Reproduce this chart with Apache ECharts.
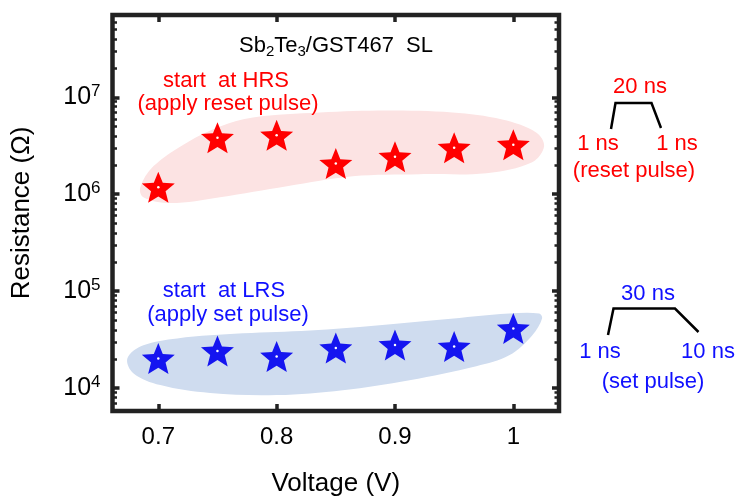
<!DOCTYPE html>
<html><head><meta charset="utf-8">
<script src="https://cdn.jsdelivr.net/npm/echarts@6/dist/echarts.min.js"></script>
<style>html,body{margin:0;padding:0;background:#fff}#c{width:736px;height:502px}</style>
</head><body><div id="c"></div>
<script>
// ---- data ----
const voltages = [0.7, 0.75, 0.8, 0.85, 0.9, 0.95, 1.0];
const resetResistance = [1.18e6, 3.83e6, 4.05e6, 2.07e6, 2.44e6, 3.02e6, 3.24e6]; // start at HRS
const setResistance = [2.02e4, 2.42e4, 2.12e4, 2.59e4, 2.79e4, 2.68e4, 4.13e4];   // start at LRS
const xTickValues = [0.7, 0.8, 0.9, 1.0];
const xTickLabels = ['0.7', '0.8', '0.9', '1'];
const yDecadeExponents = [4, 5, 6, 7];
const yMinorTickValues = [7e3, 8e3, 9e3, 2e4, 3e4, 4e4, 5e4, 6e4, 7e4, 8e4, 9e4,
  2e5, 3e5, 4e5, 5e5, 6e5, 7e5, 8e5, 9e5, 2e6, 3e6, 4e6, 5e6, 6e6, 7e6, 8e6, 9e6,
  2e7, 3e7, 4e7, 5e7, 6e7, 7e7];
// shaded regions outline: [voltage, log10(resistance)]
const resetRegion = [[0.6848,6.073],[0.6958,6.288],[0.7244,6.535],[0.7522,6.699],[0.78,6.792],
  [0.8365,6.843],[0.8929,6.863],[0.9485,6.843],[0.9906,6.771],[1.0193,6.638],[1.026,6.494],
  [1.0159,6.33],[0.9772,6.217],[0.9207,6.207],[0.8643,6.186],[0.8087,6.083],[0.7522,5.97],
  [0.7101,5.909],[0.6874,5.97]];
const setRegion = [[0.6739,4.308],[0.6874,4.441],[0.716,4.513],[0.7716,4.565],[0.8281,4.595],
  [0.8845,4.647],[0.9401,4.708],[0.9965,4.77],[1.0218,4.77],[1.0243,4.719],[1.0159,4.544],
  [0.9965,4.339],[0.9687,4.226],[0.9123,4.082],[0.8559,3.979],[0.8003,3.928],[0.7438,3.949],
  [0.7017,4.031],[0.6789,4.154]];

const FONT = 'Liberation Sans, Arial, Helvetica, sans-serif';
// five-point star symbol (inner radius ratio 0.44)
const STAR = (() => {
  let d = 'path://';
  for (let k = 0; k < 10; k++) {
    const r = k % 2 === 0 ? 50 : 22;
    const a = -Math.PI / 2 + k * Math.PI / 5;
    d += (k === 0 ? 'M' : 'L') + (50 + r * Math.cos(a)).toFixed(2) + ',' + (50 + r * Math.sin(a)).toFixed(2) + ' ';
  }
  return d + 'Z';
})();
const lg = v => Math.log10(v);
const X_MIN = 0.6613, X_MAX = 1.0386, Y_MIN = 3.764, Y_MAX = 7.849;

const chart = echarts.init(document.getElementById('c'), null, {renderer: 'canvas'});

function regionSeries(points, color) {
  return {
    type: 'custom', coordinateSystem: 'cartesian2d', silent: true, z: 1,
    data: [points[0]],
    renderItem: (params, api) => ({
      type: 'polygon',
      shape: {points: points.map(p => api.coord(p)), smooth: 0.35},
      style: {fill: color}
    })
  };
}
function starSeries(vals, color) {
  return {
    type: 'scatter', symbol: STAR, symbolSize: [33, 31], z: 3,
    itemStyle: {color: color, opacity: 1},
    data: voltages.map((v, i) => [v, lg(vals[i])])
  };
}
function dotSeries(vals) {
  return {
    type: 'scatter', symbol: 'circle', symbolSize: 2.5, z: 4, silent: true,
    itemStyle: {color: '#ffffff', opacity: 1},
    data: voltages.map((v, i) => [v, lg(vals[i])])
  };
}

const yLabelRich = {
  b: {fontSize: 25, fontFamily: FONT, color: '#000', lineHeight: 29},
  s: {fontSize: 17, fontFamily: FONT, color: '#000', lineHeight: 18, verticalAlign: 'top'}
};
const majorY = yDecadeExponents;
const minorY = yMinorTickValues.map(lg);

function yAxisDef(pos, values, len, w, labels) {
  return {
    type: 'value', position: pos, min: Y_MIN, max: Y_MAX, offset: 0,
    axisLine: {show: false}, splitLine: {show: false},
    axisTick: {show: true, inside: true, length: len, customValues: values,
      lineStyle: {color: '#222', width: w}},
    axisLabel: labels ? {show: true, customValues: values, margin: 12,
      formatter: v => '{b|10}{s|' + Math.round(v) + '}', rich: yLabelRich} : {show: false},
    name: labels ? 'Resistance (\u03A9)' : '',
    nameLocation: 'middle', nameGap: 78,
    nameTextStyle: {fontSize: 26, fontFamily: FONT, color: '#000'}
  };
}

const option = {
  backgroundColor: '#fff',
  animation: false,
  grid: {left: 112.5, right: 177, top: 15, bottom: 89, show: true,
    borderColor: '#222', borderWidth: 4.5, backgroundColor: 'transparent'},
  xAxis: [
    {type: 'value', position: 'bottom', min: X_MIN, max: X_MAX,
      axisLine: {show: false}, splitLine: {show: false},
      axisTick: {show: true, inside: true, length: 7, customValues: xTickValues,
        lineStyle: {color: '#222', width: 3.5}},
      axisLabel: {show: true, customValues: xTickValues, margin: 14,
        formatter: v => xTickLabels[xTickValues.indexOf(v)] ?? String(v),
        fontSize: 24, fontFamily: FONT, color: '#000'},
      name: 'Voltage (V)', nameLocation: 'middle', nameGap: 60,
      nameTextStyle: {fontSize: 26, fontFamily: FONT, color: '#000'}},
    {type: 'value', position: 'top', min: X_MIN, max: X_MAX,
      axisLine: {show: false}, splitLine: {show: false},
      axisTick: {show: true, inside: true, length: 7, customValues: xTickValues,
        lineStyle: {color: '#222', width: 3.5}},
      axisLabel: {show: false}}
  ],
  yAxis: [
    yAxisDef('left', majorY, 7, 3.5, true),
    yAxisDef('left', minorY, 4.5, 2.5, false),
    yAxisDef('right', majorY, 7, 3.5, false),
    yAxisDef('right', minorY, 4.5, 2.5, false)
  ],
  series: [
    regionSeries(resetRegion, '#fce3e3'),
    regionSeries(setRegion, '#cfdcef'),
    starSeries(resetResistance, '#ff0000'),
    starSeries(setResistance, '#1515f0'),
    dotSeries(resetResistance),
    dotSeries(setResistance)
  ],
  graphic: [
    {type: 'text', x: 336, y: 46, z: 10, style: {
      text: 'Sb{sub|2}Te{sub|3}/GST467  SL', font: '22px ' + FONT, fill: '#000',
      align: 'center', verticalAlign: 'middle', lineHeight: 26,
      rich: {sub: {fontSize: 15, fontFamily: FONT, fill: '#000', lineHeight: 14, verticalAlign: 'bottom'}}}},
    {type: 'text', x: 226, y: 81, z: 10, style: {text: 'start  at HRS', font: '22px ' + FONT, fill: '#ff0000', align: 'center', verticalAlign: 'middle'}},
    {type: 'text', x: 228, y: 104, z: 10, style: {text: '(apply reset pulse)', font: '22px ' + FONT, fill: '#ff0000', align: 'center', verticalAlign: 'middle'}},
    {type: 'text', x: 224, y: 291, z: 10, style: {text: 'start  at LRS', font: '22px ' + FONT, fill: '#1010ff', align: 'center', verticalAlign: 'middle'}},
    {type: 'text', x: 228, y: 315, z: 10, style: {text: '(apply set pulse)', font: '22px ' + FONT, fill: '#1010ff', align: 'center', verticalAlign: 'middle'}},
    // reset pulse sketch
    {type: 'polyline', z: 10, shape: {points: [[611, 129], [615.5, 103], [651.5, 103], [661, 128]]},
      style: {stroke: '#000', lineWidth: 2.5, fill: null}},
    {type: 'text', x: 640, y: 87, z: 10, style: {text: '20 ns', font: '22px ' + FONT, fill: '#ff0000', align: 'center', verticalAlign: 'middle'}},
    {type: 'text', x: 598, y: 144, z: 10, style: {text: '1 ns', font: '22px ' + FONT, fill: '#ff0000', align: 'center', verticalAlign: 'middle'}},
    {type: 'text', x: 677, y: 144, z: 10, style: {text: '1 ns', font: '22px ' + FONT, fill: '#ff0000', align: 'center', verticalAlign: 'middle'}},
    {type: 'text', x: 634, y: 171, z: 10, style: {text: '(reset pulse)', font: '22px ' + FONT, fill: '#ff0000', align: 'center', verticalAlign: 'middle'}},
    // set pulse sketch
    {type: 'polyline', z: 10, shape: {points: [[608, 335], [613.5, 308.5], [675, 308.5], [698.5, 332]]},
      style: {stroke: '#000', lineWidth: 2.5, fill: null}},
    {type: 'text', x: 648, y: 294, z: 10, style: {text: '30 ns', font: '22px ' + FONT, fill: '#1010ff', align: 'center', verticalAlign: 'middle'}},
    {type: 'text', x: 600, y: 352, z: 10, style: {text: '1 ns', font: '22px ' + FONT, fill: '#1010ff', align: 'center', verticalAlign: 'middle'}},
    {type: 'text', x: 708, y: 352, z: 10, style: {text: '10 ns', font: '22px ' + FONT, fill: '#1010ff', align: 'center', verticalAlign: 'middle'}},
    {type: 'text', x: 653, y: 382, z: 10, style: {text: '(set pulse)', font: '22px ' + FONT, fill: '#1010ff', align: 'center', verticalAlign: 'middle'}}
  ]
};
chart.setOption(option);
</script>
</body></html>
